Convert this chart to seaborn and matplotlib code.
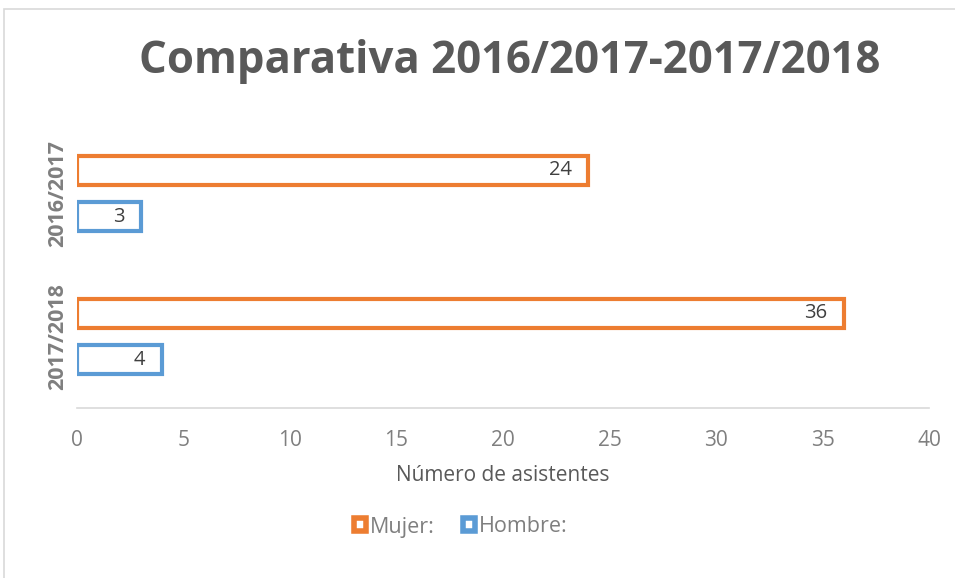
import matplotlib
matplotlib.use("Agg")
import matplotlib.pyplot as plt
from matplotlib.patches import Patch, Rectangle
import seaborn as sns
import pandas as pd

periods = ["2016/2017", "2017/2018"]
series = ["Mujer:", "Hombre:"]
mujer = [24, 36]
hombre = [3, 4]
xticks = [0, 5, 10, 15, 20, 25, 30, 35, 40]
title = "Comparativa 2016/2017-2017/2018"
xlabel = "Número de asistentes"

colors = {"Mujer:": "#ED7D31", "Hombre:": "#5B9BD5"}

df = pd.DataFrame({
    "period": periods * 2,
    "serie": [series[0]] * 2 + [series[1]] * 2,
    "value": mujer + hombre,
})

sns.set_theme(style="white")
plt.rcParams["font.family"] = ["Open Sans", "DejaVu Sans"]

fig = plt.figure(figsize=(9.55, 5.78), dpi=100)
ax = fig.add_axes([77/955, 1-408/578, (929-77)/955, (408-122)/578])

sns.barplot(data=df, y="period", x="value", hue="serie", order=periods,
            hue_order=series, palette=colors, orient="h", fill=False,
            linewidth=3, width=0.644, gap=0.39, ax=ax, legend=False)

# value labels
for cont, vals in zip(ax.containers, [mujer, hombre]):
    for bar, v in zip(cont, vals):
        y = bar.get_y() + bar.get_height() / 2
        ax.annotate(str(v), (v, y), xytext=(-12, 0), textcoords="offset points",
                    ha="right", va="center", fontsize=14.5, color="#404040")

ax.set_xlim(0, 40)
ax.set_ylim(1.5, -0.5)
ax.set_xticks(xticks)
ax.set_xticklabels([str(t) for t in xticks], fontsize=15, color="#7F7F7F")
ax.tick_params(axis="x", length=0, pad=16)
ax.set_yticks([0, 1])
ax.set_yticklabels(periods, rotation=90, fontsize=15.5, fontweight="bold",
                   color="#7F7F7F", va="center")
ax.tick_params(axis="y", length=0, pad=6)
ax.set_ylabel("")
ax.set_xlabel(xlabel, fontsize=15, color="#595959", labelpad=10)
for s in ["top", "right", "left"]:
    ax.spines[s].set_visible(False)
ax.spines["bottom"].set_color("#D9D9D9")
ax.spines["bottom"].set_linewidth(1.2)

fig.text(510/955, 1-62/578, title, ha="center", va="center", fontsize=31.5,
         fontweight="bold", color="#595959")

handles = [Patch(facecolor="white", edgecolor=colors[s], linewidth=4, label=s)
           for s in series]
fig.legend(handles=handles, loc="center", bbox_to_anchor=(461/955, 1-527/578),
           ncol=2, frameon=False, fontsize=15.5, handlelength=0.55, handleheight=0.55,
           handletextpad=0.2, columnspacing=1.3, labelcolor="#7F7F7F")

fig.patches.append(Rectangle((4/955, -0.1), 1.2, 1 - 9/578 + 0.1,
                             transform=fig.transFigure, fill=False,
                             edgecolor="#D9D9D9", linewidth=1.2))

fig.savefig("out.png", dpi=100)
